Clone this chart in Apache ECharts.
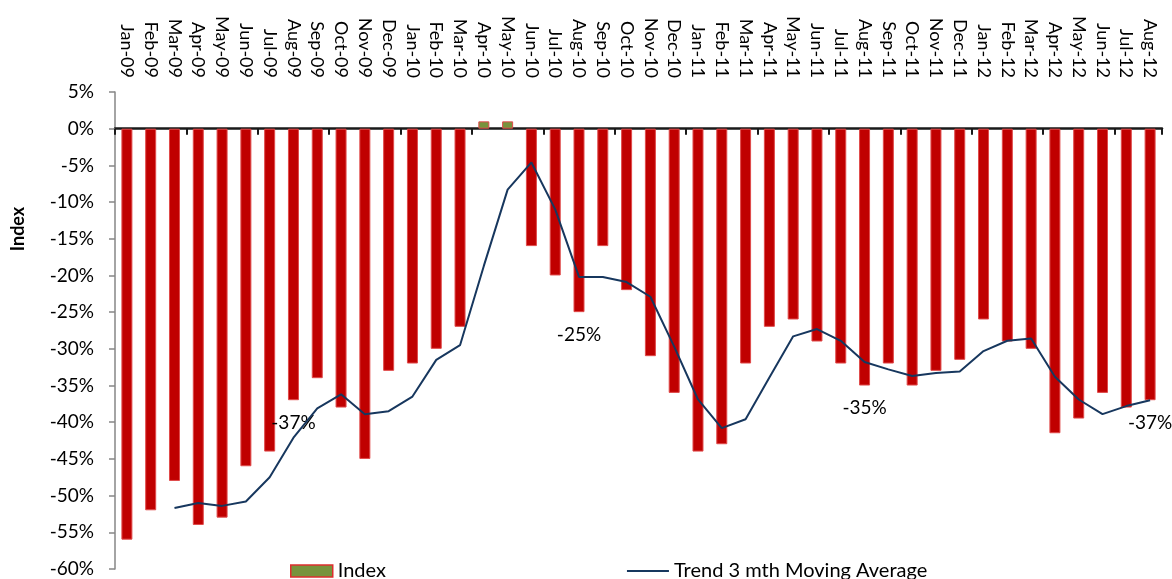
<!DOCTYPE html>
<html>
<head>
<meta charset="utf-8">
<script src="https://cdn.jsdelivr.net/npm/echarts@6/dist/echarts.min.js"></script>
<style>
  html, body { margin: 0; padding: 0; background: #ffffff; }
  #chart { width: 1172px; height: 579px; }
</style>
</head>
<body>
<div id="chart"></div>
<script>
// Monthly categories
const months = [
  'Jan-09','Feb-09','Mar-09','Apr-09','May-09','Jun-09','Jul-09','Aug-09','Sep-09','Oct-09','Nov-09','Dec-09',
  'Jan-10','Feb-10','Mar-10','Apr-10','May-10','Jun-10','Jul-10','Aug-10','Sep-10','Oct-10','Nov-10','Dec-10',
  'Jan-11','Feb-11','Mar-11','Apr-11','May-11','Jun-11','Jul-11','Aug-11','Sep-11','Oct-11','Nov-11','Dec-11',
  'Jan-12','Feb-12','Mar-12','Apr-12','May-12','Jun-12','Jul-12','Aug-12'
];

// Index, year-on-year change in %
const indexValues = [
  -56, -52, -48, -54, -53, -46, -44, -37, -34, -38, -45, -33,
  -32, -30, -27, 1, 1, -16, -20, -25, -16, -22, -31, -36,
  -44, -43, -32, -27, -26, -29, -32, -35, -32, -35, -33, -31.5,
  -26, -29, -30, -41.5, -39.5, -36, -38, -37
];

// Trend, 3 month moving average in %
const trendValues = [
  null, null, -51.7, -51.0, -51.4, -50.8, -47.5, -42.1, -38.1, -36.2, -38.9, -38.5,
  -36.5, -31.5, -29.5, -18.7, -8.3, -4.6, -11.0, -20.2, -20.2, -20.9, -22.9, -29.7,
  -36.9, -40.8, -39.6, -33.9, -28.3, -27.3, -28.9, -31.8, -32.8, -33.7, -33.3, -33.1,
  -30.3, -28.9, -28.6, -33.8, -36.9, -38.9, -37.8, -37.0
];

// Months whose bar carries a value label
const labelledMonths = ['Aug-09', 'Aug-10', 'Aug-11', 'Aug-12'];

// Value axis range and step (%)
const yMin = -60, yMax = 5, yStep = 5;

const FONT = 'Lato, "Liberation Sans", sans-serif';
const POS_FILL = '#77933C';
const NEG_FILL = '#C00000';
const BAR_EDGE = '#E04A4A';
const LINE_COLOR = '#17375E';

const barData = indexValues.map((v, i) => {
  const item = { value: v, itemStyle: { color: v < 0 ? NEG_FILL : POS_FILL } };
  if (labelledMonths.indexOf(months[i]) >= 0) {
    item.label = { show: true };
  }
  return item;
});

const chart = echarts.init(document.getElementById('chart'), null, { renderer: 'canvas' });

chart.setOption({
  animation: false,
  backgroundColor: '#ffffff',
  grid: { left: 115, right: 10, top: 92, bottom: 10, containLabel: false },
  xAxis: [
    {
      type: 'category',
      data: months,
      position: 'top',
      axisLine: { show: false, onZero: false },
      axisTick: { show: false },
      axisLabel: {
        rotate: 90,
        interval: 0,
        margin: 14,
        fontSize: 18,
        fontFamily: FONT,
        color: '#000000'
      },
      splitLine: { show: false }
    },
    {
      type: 'category',
      data: months,
      position: 'bottom',
      axisLine: { show: true, onZero: true, lineStyle: { color: '#1a1a1a', width: 2.5 } },
      axisTick: { show: true, length: 6, lineStyle: { color: '#1a1a1a', width: 2 } },
      axisLabel: { show: false },
      splitLine: { show: false }
    }
  ],
  yAxis: {
    type: 'value',
    min: yMin,
    max: yMax,
    interval: yStep,
    axisLine: { show: true, lineStyle: { color: '#868686', width: 1.5 } },
    axisTick: { show: true, length: 6, lineStyle: { color: '#868686', width: 1.5 } },
    axisLabel: {
      margin: 21,
      fontSize: 19,
      fontFamily: FONT,
      color: '#000000',
      formatter: v => v + '%'
    },
    splitLine: { show: false }
  },
  legend: {
    left: 290,
    top: 561,
    padding: 0,
    itemWidth: 42,
    itemHeight: 12,
    itemGap: 240,
    textStyle: { fontSize: 20, fontFamily: FONT, color: '#000000', lineHeight: 20 },
    data: [
      { name: 'Index', icon: 'rect', itemStyle: { color: POS_FILL, borderColor: '#DD2E2E', borderWidth: 1.5 } },
      { name: 'Trend 3 mth Moving Average', itemStyle: { opacity: 0 }, lineStyle: { color: LINE_COLOR, width: 2 } }
    ]
  },
  graphic: [
    {
      type: 'text',
      x: 18,
      y: 229,
      rotation: Math.PI / 2,
      style: {
        text: 'Index',
        font: 'bold 18px ' + FONT,
        fill: '#000000',
        align: 'center',
        verticalAlign: 'middle'
      }
    }
  ],
  series: [
    {
      name: 'Index',
      type: 'bar',
      xAxisIndex: 0,
      barWidth: 11,
      data: barData,
      itemStyle: { color: POS_FILL, borderColor: BAR_EDGE, borderWidth: 1 },
      label: {
        show: false,
        position: 'bottom',
        distance: 13,
        fontSize: 19,
        fontFamily: FONT,
        color: '#000000',
        formatter: p => Math.round(p.value) + '%'
      },
      z: 2
    },
    {
      name: 'Trend 3 mth Moving Average',
      type: 'line',
      xAxisIndex: 0,
      data: trendValues,
      symbol: 'none',
      showSymbol: false,
      connectNulls: false,
      lineStyle: { color: LINE_COLOR, width: 2 },
      itemStyle: { color: LINE_COLOR },
      z: 3
    }
  ]
});
</script>
</body>
</html>
